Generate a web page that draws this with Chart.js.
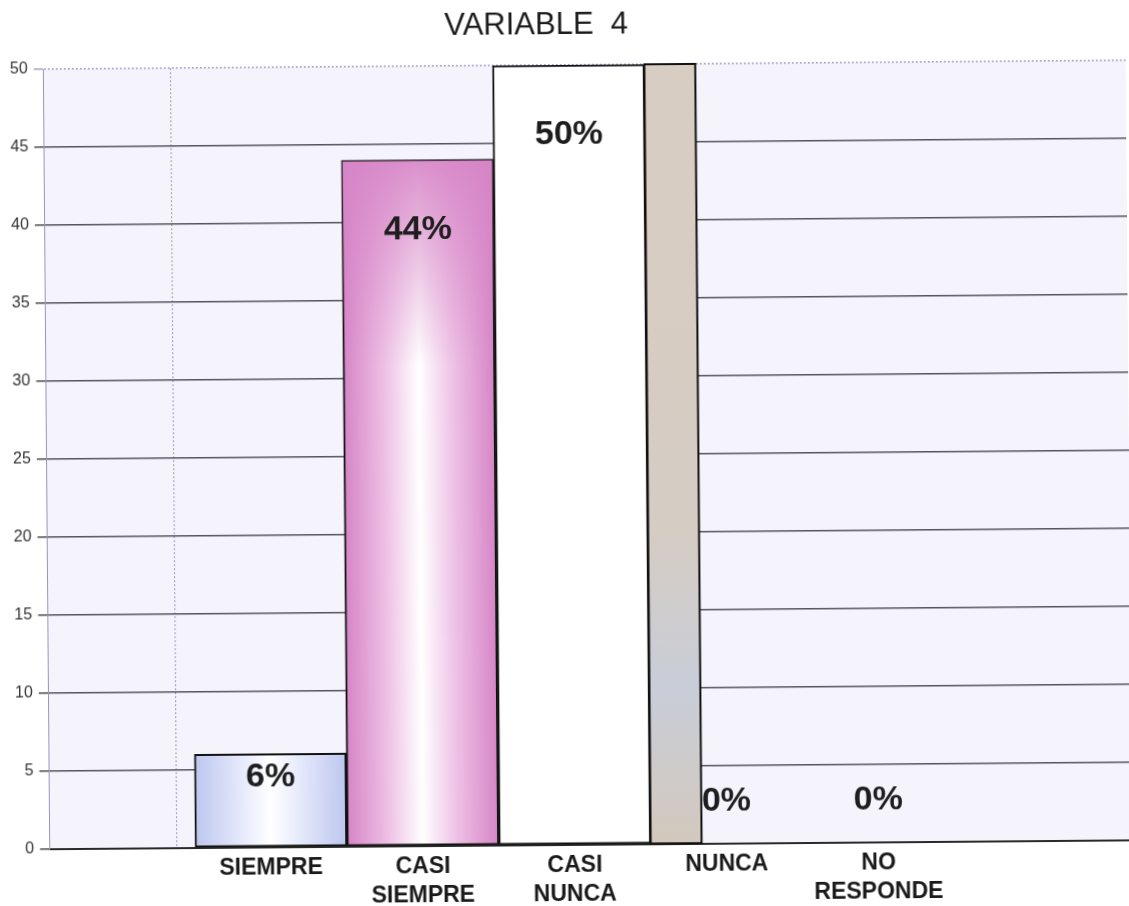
<!DOCTYPE html>
<html>
<head>
<meta charset="utf-8">
<script src="https://cdn.jsdelivr.net/npm/chart.js@4.4.1/dist/chart.umd.min.js"></script>
<style>
  html, body { margin: 0; background: #fff; overflow: hidden; }
  /* the scan is tilted by about half a degree */
  #wrap { width: 1129px; height: 906px; transform: rotate(-0.47deg); transform-origin: 50% 50%; }
</style>
</head>
<body>
<div id="wrap"><canvas id="barChart"></canvas></div>
<script>
// data
const categories = [['SIEMPRE'], ['CASI', 'SIEMPRE'], ['CASI', 'NUNCA'], ['NUNCA'], ['NO', 'RESPONDE']];
const percentages = [6, 44, 50, 0, 0];
const yTicks = [0, 5, 10, 15, 20, 25, 30, 35, 40, 45, 50];
const chartTitle = 'VARIABLE  4';

const FONT = '"Liberation Sans", Arial, sans-serif';

// edge / mid colours of each bar's horizontal shading
const barShades = [
  ['#bcc6ef', '#e2e6fa'],
  ['#d684c6', '#eec2e6'],
  ['#ffffff', '#ffffff'],
  ['#ffffff', '#ffffff'],
  ['#ffffff', '#ffffff']
];

function barFill(c) {
  const chart = c.chart;
  const x = chart.scales.x;
  if (!chart.chartArea || c.type !== 'data' || !x) return '#fff';
  const cx = x.getPixelForValue(c.dataIndex);
  const w = x.getPixelForValue(1) - x.getPixelForValue(0);
  const g = chart.ctx.createLinearGradient(cx - w / 2, 0, cx + w / 2, 0);
  const [edge, mid] = barShades[c.dataIndex];
  g.addColorStop(0, edge);
  g.addColorStop(0.28, mid);
  g.addColorStop(0.5, '#ffffff');
  g.addColorStop(0.72, mid);
  g.addColorStop(1, edge);
  return g;
}

const plotTint = {
  id: 'plotTint',
  beforeDraw(chart) {
    const { ctx, chartArea: a } = chart;
    ctx.save();
    ctx.fillStyle = '#f5f3fc';
    ctx.fillRect(a.left, a.top, a.right - a.left, a.bottom - a.top);
    // dotted wall edge left of the first bar
    const wx = chart.scales.x.getPixelForValue(-0.62);
    ctx.strokeStyle = '#9a98b6';
    ctx.lineWidth = 1;
    ctx.setLineDash([2, 2]);
    ctx.beginPath();
    ctx.moveTo(wx, a.top);
    ctx.lineTo(wx, a.bottom);
    ctx.stroke();
    ctx.setLineDash([]);
    // title, a little left of the page centre like the scan
    ctx.fillStyle = '#1c1c1c';
    ctx.font = '31px ' + FONT;
    ctx.textAlign = 'center';
    ctx.textBaseline = 'alphabetic';
    ctx.fillText(chartTitle, chart.width * 0.478, 34);
    ctx.restore();
  }
};

const barExtras = {
  id: 'barExtras',
  afterDatasetsDraw(chart) {
    const { ctx } = chart;
    const bars = chart.getDatasetMeta(0).data;
    ctx.save();
    // pink fade on top of CASI SIEMPRE
    const b1 = bars[1];
    const h1 = b1.base - b1.y;
    const pg = ctx.createLinearGradient(0, b1.y, 0, b1.y + h1 * 0.3);
    pg.addColorStop(0, 'rgba(214,132,198,0.9)');
    pg.addColorStop(1, 'rgba(214,132,198,0)');
    ctx.fillStyle = pg;
    ctx.fillRect(b1.x - b1.width / 2 + 1, b1.y + 1, b1.width - 2, h1 * 0.3);

    // side strip beside CASI NUNCA
    const b2 = bars[2];
    const sx = b2.x + b2.width / 2;
    const sw = b2.width * 0.335;
    const tg = ctx.createLinearGradient(0, b2.y, 0, b2.base);
    tg.addColorStop(0, '#d8cdc2');
    tg.addColorStop(0.6, '#d5ccc3');
    tg.addColorStop(0.8, '#c9cdd8');
    tg.addColorStop(1, '#d3c9bd');
    ctx.fillStyle = tg;
    ctx.fillRect(sx, b2.y, sw, b2.base - b2.y);
    ctx.strokeStyle = '#111';
    ctx.lineWidth = 2;
    ctx.strokeRect(sx, b2.y, sw, b2.base - b2.y);

    // percentage labels
    ctx.fillStyle = '#1e1e1e';
    ctx.font = 'bold 34px ' + FONT;
    ctx.textAlign = 'center';
    ctx.textBaseline = 'middle';
    bars.forEach((bar, i) => {
      const h = bar.base - bar.y;
      const y = Math.min(bar.y + Math.min(70, h / 4), bar.base - 42);
      ctx.fillText(percentages[i] + '%', bar.x, y);
    });
    ctx.restore();
  }
};

const ctx1 = document.getElementById('barChart');
const barChart = new Chart(ctx1, {
  type: 'bar',
  data: {
    datasets: [{
      data: percentages.map((v, i) => ({ x: i, y: v })),
      backgroundColor: barFill,
      borderColor: '#111',
      borderWidth: 2,
      borderSkipped: false,
      barPercentage: 1,
      categoryPercentage: 1
    }]
  },
  options: {
    responsive: true,
    maintainAspectRatio: false,
    animation: false,
    layout: { padding: { left: 7, right: 0, top: 65, bottom: -9 } },
    scales: {
      x: {
        type: 'linear',
        offset: false,
        bounds: 'data',
        min: -1.455,
        max: 5.67,
        afterBuildTicks: s => { s.ticks = categories.map((c, i) => ({ value: i })); },
        grid: { display: false, drawTicks: false },
        border: { color: '#2a2a2a', width: 2 },
        ticks: {
          callback: (v, i) => categories[i],
          color: '#1a1a1a',
          font: { family: FONT, size: 23, weight: 'bold', lineHeight: 1.26 },
          padding: 6,
          maxRotation: 0,
          autoSkip: false
        }
      },
      y: {
        min: 0,
        max: 50,
        afterBuildTicks: s => { s.ticks = yTicks.map(v => ({ value: v })); },
        grid: {
          color: c => c.tick && c.tick.value === 50 ? '#a9a7c8' : '#55555c',
          lineWidth: 1.6,
          tickLength: 10
        },
        border: {
          color: '#9896b8',
          width: 1,
          dash: c => c.tick && c.tick.value === 50 ? [2, 2] : []
        },
        ticks: {
          color: '#333',
          font: { family: FONT, size: 16 },
          padding: 6
        }
      }
    },
    plugins: {
      legend: { display: false },
      tooltip: { enabled: false },
      title: { display: false }
    }
  },
  plugins: [plotTint, barExtras]
});
</script>
</body>
</html>
